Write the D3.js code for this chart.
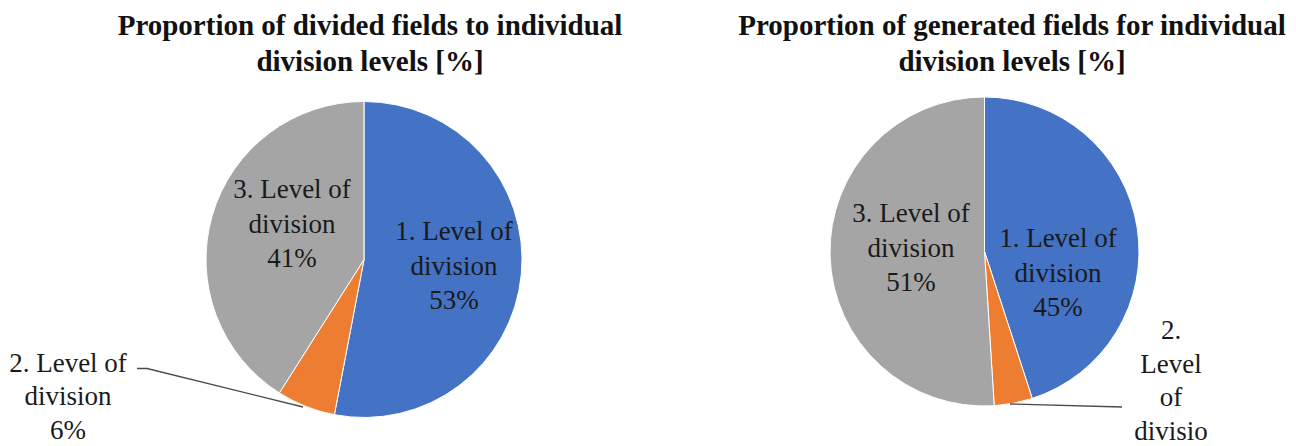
<!DOCTYPE html>
<html>
<head>
<meta charset="utf-8">
<script src="https://cdn.jsdelivr.net/npm/d3@7/dist/d3.min.js"></script>
<style>
  html, body { margin: 0; padding: 0; background: #ffffff; }
  svg { display: block; }
  text { font-family: "Liberation Serif", "DejaVu Serif", serif; fill: #1a1a1a; }
</style>
</head>
<body>
<script>
// Division levels shared by both pies
const levels = ["1. Level of division", "2. Level of division", "3. Level of division"];
// Share of divided fields per level [%]
const dividedShare = [53, 6, 41];
// Share of generated fields per level [%]
const generatedShare = [45, 4, 51];
// Chart titles (two lines each)
const titleDivided = ["Proportion of divided fields to individual", "division levels [%]"];
const titleGenerated = ["Proportion of generated fields for individual", "division levels [%]"];

const colors = ["#4472C4", "#ED7D31", "#A5A5A5"];

const W = 1296, H = 446;
const svg = d3.select("body").append("svg").attr("width", W).attr("height", H);

const color = d3.scaleOrdinal().domain(levels).range(colors);

// Label placement relative to pie centre: dx, dy of first baseline, line texts
const charts = [
  {
    values: dividedShare,
    title: titleDivided,
    titleX: 370,
    cx: 364, cy: 259.5, r: 158,
    labels: [
      { dx: 90, dy: -19.5, gap: 34.5, lines: (v) => ["1. Level of", "division", v + "%"] },
      { dx: -296, dy: 112, gap: 33.5, lines: (v) => ["2. Level of", "division", v + "%"] },
      { dx: -72, dy: -61.5, gap: 34.5, lines: (v) => ["3. Level of", "division", v + "%"] }
    ],
    // leader from slice 2 to its outside label
    leader: [[-61, 147.5], [-217, 109], [-227, 109]]
  },
  {
    values: generatedShare,
    title: titleGenerated,
    titleX: 1012,
    cx: 984.5, cy: 251.5, r: 154.5,
    labels: [
      { dx: 73.5, dy: -4.5, gap: 34.5, lines: (v) => ["1. Level of", "division", v + "%"] },
      { dx: 186.5, dy: 87.5, gap: 33.5, lines: (v) => ["2.", "Level", "of", "divisio"] },
      { dx: -73.5, dy: -29.5, gap: 34.5, lines: (v) => ["3. Level of", "division", v + "%"] }
    ],
    leader: [[25.5, 152.5], [137.5, 155.5]]
  }
];

charts.forEach(ch => {
  // Title
  const t = svg.append("text")
    .attr("x", ch.titleX).attr("y", 35)
    .attr("text-anchor", "middle")
    .style("font-weight", "bold")
    .style("font-size", "29px")
    .style("fill", "#111");
  ch.title.forEach((ln, i) => {
    t.append("tspan").attr("x", ch.titleX).attr("dy", i === 0 ? 0 : 36).text(ln);
  });

  const g = svg.append("g").attr("transform", `translate(${ch.cx},${ch.cy})`);

  const pie = d3.pie().sort(null).value(d => d.v);
  const arcs = pie(levels.map((name, i) => ({ name, v: ch.values[i] })));
  const arc = d3.arc().innerRadius(0).outerRadius(ch.r);

  g.selectAll("path.slice")
    .data(arcs)
    .join("path")
    .attr("class", "slice")
    .attr("d", arc)
    .attr("fill", d => color(d.data.name))
    .attr("stroke", "#ffffff")
    .attr("stroke-width", 1);

  // Leader line for the small slice
  g.append("path")
    .attr("d", d3.line()(ch.leader))
    .attr("fill", "none")
    .attr("stroke", "#4a4a4a")
    .attr("stroke-width", 1.3);

  // Data labels
  arcs.forEach((a, i) => {
    const L = ch.labels[i];
    const txt = g.append("text")
      .attr("x", L.dx).attr("y", L.dy)
      .attr("text-anchor", "middle")
      .style("font-size", "27px")
      .style("fill", "#1a1a1a");
    L.lines(a.data.v).forEach((ln, j) => {
      txt.append("tspan").attr("x", L.dx).attr("dy", j === 0 ? 0 : L.gap).text(ln);
    });
  });
});
</script>
</body>
</html>
